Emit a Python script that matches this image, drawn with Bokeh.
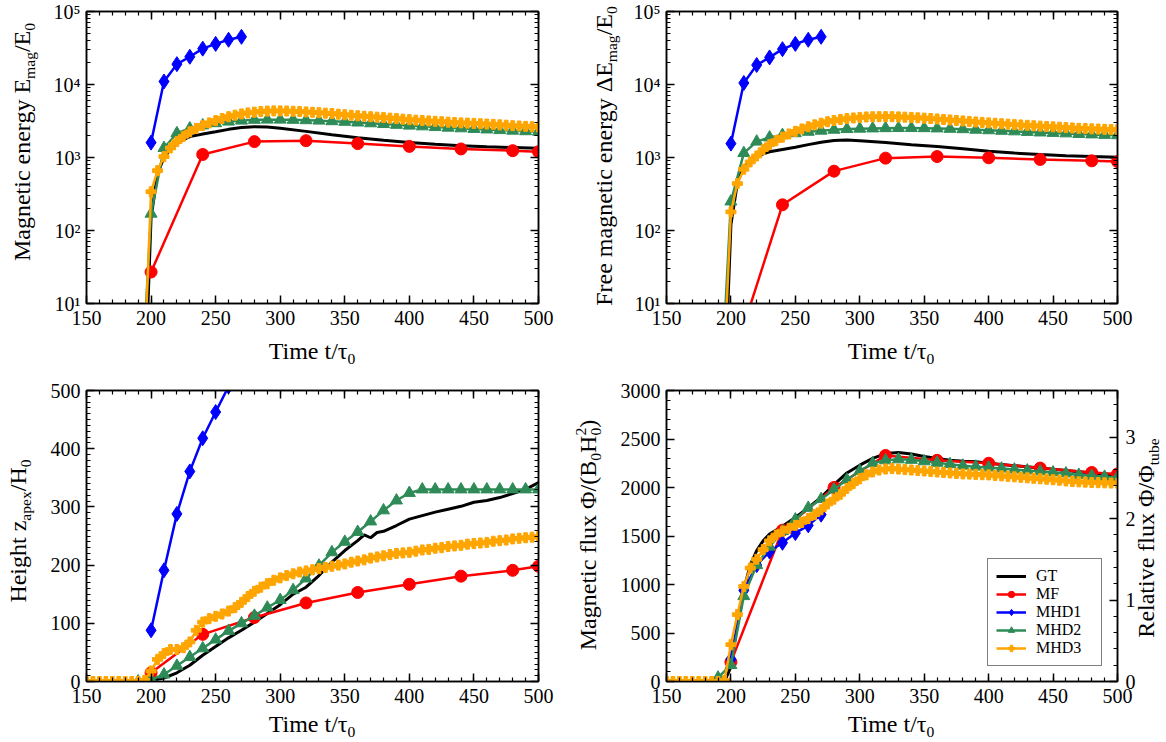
from bokeh.plotting import figure
from bokeh.layouts import column, row
from bokeh.models import (Range1d, LinearAxis, LogAxis, SingleIntervalTicker, FixedTicker,
                          Legend, LegendItem, CustomJSTickFormatter, Div)
from bokeh.embed import file_html
from bokeh.resources import INLINE

FONT = "Liberation Serif"
TICK_FS = "20px"

# ---------------- data ----------------
T_MF = [200, 240, 280, 320, 360, 400, 440, 480, 500]
T_MHD1 = [200, 210, 220, 230, 240, 250, 260, 270]
T_MHD2 = [190, 200, 210, 220, 230, 240, 250, 260, 270, 280, 290, 300, 310, 320, 330, 340,
          350, 360, 370, 380, 390, 400, 410, 420, 430, 440, 450, 460, 470, 480, 490, 500]
T_MHD3 = [150, 155, 160, 165, 170, 175, 180, 185, 190, 195, 200, 205, 210, 215, 220, 225,
          230, 235, 240, 245, 250, 255, 260, 265, 270, 275, 280, 285, 290, 295, 300, 305,
          310, 315, 320, 325, 330, 335, 340, 345, 350, 355, 360, 365, 370, 375, 380, 385,
          390, 395, 400, 405, 410, 415, 420, 425, 430, 435, 440, 445, 450, 455, 460, 465,
          470, 475, 480, 485, 490, 495, 500]

# Panel 1: magnetic energy
GT1_T = [197, 200, 205, 210, 215, 220, 225, 230, 240, 250, 260, 270, 280, 290, 300, 320,
         340, 360, 380, 400, 420, 440, 460, 480, 500]
GT1_E = [5, 150, 600, 1000, 1300, 1550, 1750, 1930, 2100, 2250, 2430, 2570, 2640, 2620, 2520,
         2280, 2050, 1870, 1720, 1600, 1520, 1450, 1400, 1370, 1340]
MF1_E = [27, 1100, 1650, 1700, 1550, 1420, 1310, 1240, 1200]
MHD1_E1 = [1600, 11000, 19000, 24000, 31000, 36000, 41000, 45000]
MHD2_E1 = [0.1, 170, 1350, 2150, 2500, 2750, 2950, 3100, 3200, 3280, 3300, 3300, 3280, 3240,
           3200, 3140, 3080, 3010, 2940, 2870, 2800, 2730, 2670, 2610, 2560, 2510, 2460, 2420,
           2370, 2330, 2290, 2250]
MHD3_E1 = [0.1, 0.1, 0.1, 0.1, 0.1, 0.1, 0.1, 0.1, 0.1, 2,
           340, 660, 1030, 1350, 1650, 1950, 2250, 2500, 2750, 2980,
           3200, 3420, 3620, 3800, 3950, 4080, 4180, 4260, 4320, 4350,
           4350, 4330, 4300, 4260, 4210, 4160, 4110, 4050, 4000, 3920,
           3850, 3790, 3730, 3670, 3620, 3570, 3520, 3460, 3410, 3350,
           3300, 3250, 3210, 3170, 3130, 3090, 3050, 3010, 2980, 2960,
           2930, 2900, 2870, 2840, 2800, 2770, 2730, 2700, 2670, 2640, 2620]

# Panel 2: free magnetic energy
GT2_T = GT1_T
GT2_E = [5, 120, 450, 750, 900, 1020, 1120, 1200, 1290, 1380, 1500, 1620, 1710, 1730, 1700,
         1600, 1500, 1420, 1320, 1220, 1150, 1100, 1060, 1030, 1010]
MF2_E = [1.4, 225, 650, 980, 1030, 990, 940, 900, 880]
MHD1_E2 = [1550, 10500, 18500, 23500, 30500, 36000, 41000, 45000]
MHD2_E2 = [0.1, 250, 1150, 1650, 1880, 2030, 2150, 2250, 2330, 2400, 2450, 2480, 2500, 2520,
           2530, 2530, 2520, 2500, 2470, 2440, 2400, 2360, 2320, 2280, 2240, 2200, 2170, 2140,
           2100, 2070, 2040, 2020]
MHD3_E2 = [0.1, 0.1, 0.1, 0.1, 0.1, 0.1, 0.1, 0.1, 0.1, 2,
           180, 440, 690, 870, 1050, 1280, 1500, 1700, 1900, 2100,
           2280, 2460, 2640, 2800, 2950, 3090, 3210, 3320, 3410, 3480,
           3540, 3590, 3620, 3630, 3630, 3620, 3600, 3570, 3540, 3500,
           3460, 3420, 3370, 3320, 3270, 3220, 3170, 3120, 3070, 3020,
           2980, 2940, 2900, 2860, 2820, 2790, 2760, 2720, 2690, 2660,
           2630, 2600, 2570, 2540, 2510, 2490, 2470, 2450, 2430, 2410, 2400]

# Panel 3: apex height
GT3_T = [150, 195, 200, 210, 220, 230, 240, 250, 260, 270, 280, 290, 300, 310, 320, 330, 340,
         350, 360, 365, 370, 375, 380, 390, 400, 410, 420, 430, 440, 450, 460, 470, 480, 490, 500]
GT3_Z = [0, 0, 2, 6, 15, 28, 45, 60, 75, 88, 102, 117, 132, 150, 162, 182, 205,
         225, 242, 252, 247, 256, 258, 268, 279, 285, 291, 296, 301, 308, 311, 316, 323, 330, 342]
MF3_Z = [15, 81, 110, 135, 153, 167, 181, 191, 198]
MHD1_Z = [88, 191, 288, 361, 418, 463, 507, 550]
MHD2_Z = [0, 3, 12, 27, 42, 57, 72, 87, 100, 113, 127, 140, 157, 177, 199, 222, 240, 257, 275,
          294, 311, 324, 330, 330, 330, 330, 330, 330, 330, 330, 330, 330]
MHD3_Z = [0, 0, 0, 0, 0, 0, 0, 0, 0, 2,
          18, 38, 48, 55, 55, 58, 68, 88, 102, 108,
          112, 116, 121, 127, 136, 146, 155, 162, 168, 174,
          178, 182, 185, 188, 190, 192, 194, 196, 198, 200,
          202, 205, 207, 209, 212, 214, 216, 218, 220, 221,
          222, 224, 226, 227, 229, 230, 232, 233, 234, 236,
          237, 238, 239, 241, 242, 243, 245, 246, 247, 248, 249]

# Panel 4: magnetic flux
GT4_T = [150, 195, 200, 205, 210, 215, 220, 225, 230, 240, 250, 260, 270, 280, 290, 300, 310,
         320, 330, 340, 350, 360, 370, 380, 390, 400, 420, 440, 460, 480, 500]
GT4_F = [0, 0, 150, 600, 950, 1200, 1350, 1450, 1520, 1600, 1690, 1790, 1900, 2030, 2150, 2230,
         2300, 2350, 2360, 2345, 2320, 2300, 2280, 2270, 2265, 2250, 2225, 2200, 2175, 2150, 2125]
MF4_F = [200, 1560, 2000, 2330, 2280, 2250, 2200, 2155, 2140]
MHD1_F = [230, 940, 1200, 1340, 1430, 1530, 1610, 1720]
MHD2_F = [40, 170, 880, 1200, 1390, 1550, 1670, 1790, 1880, 1980, 2080, 2170, 2250, 2280, 2290,
          2285, 2270, 2255, 2240, 2225, 2215, 2205, 2195, 2185, 2175, 2165, 2155, 2145, 2130,
          2120, 2110, 2105]
MHD3_F = [0, 0, 0, 0, 0, 0, 0, 0, 0, 10,
          380, 690, 980, 1170, 1260, 1360, 1450, 1510, 1550, 1580,
          1610, 1640, 1680, 1720, 1770, 1830, 1880, 1930, 1990, 2040,
          2090, 2130, 2160, 2180, 2190, 2195, 2190, 2185, 2180, 2175,
          2170, 2165, 2160, 2155, 2150, 2145, 2140, 2138, 2135, 2132,
          2130, 2125, 2120, 2115, 2110, 2105, 2100, 2095, 2090, 2085,
          2080, 2075, 2068, 2062, 2058, 2055, 2052, 2050, 2048, 2046, 2045]
PHI_TUBE = 840.0

SERIES = ["GT", "MF", "MHD1", "MHD2", "MHD3"]
COLORS = {"GT": "black", "MF": "#ff0000", "MHD1": "#0000ff", "MHD2": "#2e8b57", "MHD3": "#ffa500"}
MARKERS = {"MF": ("circle", 12), "MHD1": ("diamond", 15), "MHD2": ("triangle", 12), "MHD3": ("plus", 10)}

# ---------------- axis helpers ----------------
BLANK = "return ''"


def style_axis(a, labels=True, standoff=6):
    a.axis_line_color = "black"
    a.axis_line_width = 1.5
    a.major_tick_in = 8
    a.major_tick_out = 0
    a.minor_tick_in = 4
    a.minor_tick_out = 0
    a.major_tick_line_color = "black"
    a.minor_tick_line_color = "black"
    a.major_tick_line_width = 1.5
    a.minor_tick_line_width = 1.2
    a.major_label_text_font = FONT
    a.major_label_text_font_size = TICK_FS
    a.major_label_text_color = "black"
    a.major_label_standoff = standoff
    if not labels:
        a.formatter = CustomJSTickFormatter(code=BLANK)


def xticker():
    return SingleIntervalTicker(interval=50, num_minor_ticks=5)


LOG_MAJ = [10, 100, 1000, 10000, 100000]
LOG_MIN = [k * m for m in [10, 100, 1000, 10000] for k in [2, 3, 4, 5, 6, 7, 8, 9]]


def logticker():
    return FixedTicker(ticks=LOG_MAJ, minor_ticks=LOG_MIN)


def zticker():
    return SingleIntervalTicker(interval=100, num_minor_ticks=10)


def fticker():
    return SingleIntervalTicker(interval=500, num_minor_ticks=5)


LOGFMT = ("const s={1:'\u00b9',2:'\u00b2',3:'\u00b3',4:'\u2074',5:'\u2075'};"
          "return '10'+s[Math.round(Math.log10(tick))];")


def make_fig(w, h, bl, br, bt, bb, yr, log, yticker_fn, mirror_right=True):
    p = figure(width=w, height=h, x_range=Range1d(150, 500), y_range=yr,
               y_axis_type="log" if log else "linear", output_backend="svg",
               toolbar_location=None, min_border_left=bl, min_border_right=br,
               min_border_top=bt, min_border_bottom=bb)
    p.grid.visible = False
    p.outline_line_color = "black"
    p.outline_line_width = 1.5
    p.background_fill_color = "white"
    p.border_fill_color = None
    p.xaxis.ticker = xticker()
    p.yaxis.ticker = yticker_fn()
    for a in p.xaxis:
        style_axis(a, standoff=7)
    for a in p.yaxis:
        style_axis(a, standoff=6)
    if log:
        p.yaxis.formatter = CustomJSTickFormatter(code=LOGFMT)
    top = LinearAxis(ticker=xticker())
    style_axis(top, labels=False)
    p.add_layout(top, "above")
    if mirror_right:
        r = LogAxis(ticker=yticker_fn()) if log else LinearAxis(ticker=yticker_fn())
        style_axis(r, labels=False)
        p.add_layout(r, "right")
    return p


def draw(p, t, y, key):
    c = COLORS[key]
    rs = [p.line(t, y, line_color=c, line_width=3 if key == "GT" else 2.5)]
    if key in MARKERS:
        m, s = MARKERS[key]
        rs.append(p.scatter(t, y, marker=m, size=s, fill_color=c, line_color=c))
    return rs


# ---------------- panels ----------------
f1 = make_fig(575, 376, 86, 37, 11, 73, Range1d(10, 1e5), True, logticker)
draw(f1, GT1_T, GT1_E, "GT")
draw(f1, T_MF, MF1_E, "MF")
draw(f1, T_MHD1, MHD1_E1, "MHD1")
draw(f1, T_MHD2, MHD2_E1, "MHD2")
draw(f1, T_MHD3, MHD3_E1, "MHD3")

f2 = make_fig(590, 376, 91, 48, 11, 73, Range1d(10, 1e5), True, logticker)
draw(f2, GT2_T, GT2_E, "GT")
draw(f2, T_MF, MF2_E, "MF")
draw(f2, T_MHD1, MHD1_E2, "MHD1")
draw(f2, T_MHD2, MHD2_E2, "MHD2")
draw(f2, T_MHD3, MHD3_E2, "MHD3")

f3 = make_fig(575, 364, 86, 37, 14, 59, Range1d(0, 500), False, zticker)
draw(f3, GT3_T, GT3_Z, "GT")
draw(f3, T_MF, MF3_Z, "MF")
draw(f3, T_MHD1, MHD1_Z, "MHD1")
draw(f3, T_MHD2, MHD2_Z, "MHD2")
draw(f3, T_MHD3, MHD3_Z, "MHD3")

f4 = make_fig(590, 364, 91, 48, 14, 59, Range1d(0, 3000), False, fticker, mirror_right=False)
f4.extra_y_ranges = {"rel": Range1d(0, 3000 / PHI_TUBE)}
rax = LinearAxis(y_range_name="rel", ticker=SingleIntervalTicker(interval=1, num_minor_ticks=5))
style_axis(rax, standoff=8)
f4.add_layout(rax, "right")
r_gt = draw(f4, GT4_T, GT4_F, "GT")
r_mf = draw(f4, T_MF, MF4_F, "MF")
r_m1 = draw(f4, T_MHD1, MHD1_F, "MHD1")
r_m2 = draw(f4, T_MHD2, MHD2_F, "MHD2")
r_m3 = draw(f4, T_MHD3, MHD3_F, "MHD3")

legend = Legend(items=[LegendItem(label=n, renderers=r) for n, r in
                       zip(SERIES, [r_gt, r_mf, r_m1, r_m2, r_m3])],
                location=(321, 15), border_line_color="black", border_line_width=1.5,
                background_fill_color="white", background_fill_alpha=1.0,
                label_text_font=FONT, label_text_font_size="16px", label_text_color="black",
                glyph_width=30, glyph_height=16, label_height=16, label_width=57,
                label_standoff=10, spacing=0, padding=8, margin=0)
f4.add_layout(legend)

# ---------------- axis titles (HTML text with real sub/superscripts) ----------------
BASE = ("white-space:nowrap;font-family:'Liberation Serif',serif;font-size:24px;"
        "line-height:1;color:#000;")
ORIGIN_Y = 752  # measured page y of the overlay container


def sub(s):
    return '<span style="font-size:0.65em;vertical-align:-0.34em;line-height:0">%s</span>' % s


def supstack(s):
    return ('<span style="font-size:0.65em;vertical-align:0.62em;line-height:0;'
            'margin-left:-0.5em">%s</span>' % s)


def hspan(cx, cy, inner):
    return ('<span style="position:absolute;left:%dpx;top:%dpx;transform:translateX(-50%%);%s">'
            '%s</span>' % (cx, cy - 12 - ORIGIN_Y, BASE, inner))


def vspan(cx, cy, inner):
    return ('<span style="position:absolute;left:%dpx;top:%dpx;transform-origin:0 0;'
            'transform:rotate(-90deg) translateX(-50%%);%s">%s</span>'
            % (cx - 12, cy - ORIGIN_Y, BASE, inner))


XLAB = "Time t/\u03c4" + sub("0")
parts = [
    vspan(22, 142, "Magnetic energy E" + sub("mag") + "/E" + sub("0")),
    hspan(312, 351, XLAB),
    vspan(604, 156, "Free magnetic energy \u0394E" + sub("mag") + "/E" + sub("0")),
    hspan(891, 351, XLAB),
    vspan(18, 531, "Height z" + sub("apex") + "/H" + sub("0")),
    hspan(312, 724, XLAB),
    vspan(588, 535, "Magnetic flux \u03a6/(B" + sub("0") + "H" + sub("0") + supstack("2") + ")"),
    hspan(891, 724, XLAB),
    vspan(1146, 538, "Relative flux \u03a6/\u03a6" + sub("tube")),
]
overlay = Div(text='<div style="position:relative;width:0;height:0;">' + "".join(parts) + "</div>",
              width=1165, height=1, margin=0, styles={"overflow": "visible"})

layout = column(row(f1, f2), row(f3, f4), overlay)
open("out.html", "w").write(file_html(layout, INLINE))
